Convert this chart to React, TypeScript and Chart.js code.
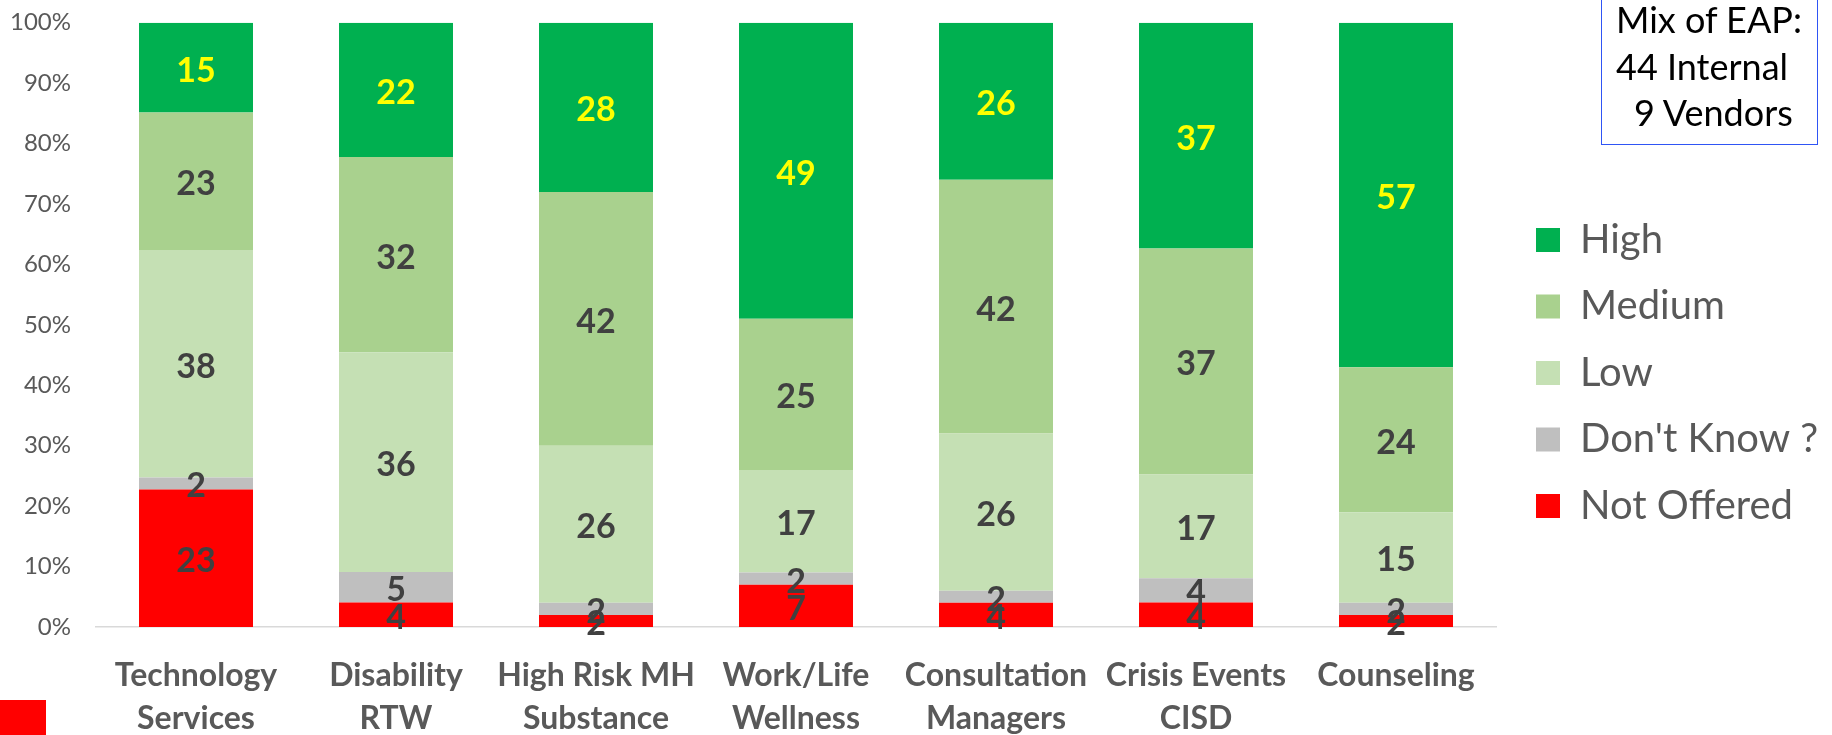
import React, { useEffect, useRef } from 'react';
import { Chart, registerables } from 'chart.js';

Chart.register(...registerables);

const categories: string[][] = [
  ['Technology', 'Services'],
  ['Disability', 'RTW'],
  ['High Risk MH', 'Substance'],
  ['Work/Life', 'Wellness'],
  ['Consultation', 'Managers'],
  ['Crisis Events', 'CISD'],
  ['Counseling'],
];

const notOffered = [23, 4, 2, 7, 4, 4, 2];
const dontKnow = [2, 5, 2, 2, 2, 4, 2];
const low = [38, 36, 26, 17, 26, 17, 15];
const medium = [23, 32, 42, 25, 42, 37, 24];
const high = [15, 22, 28, 49, 26, 37, 57];

const seriesNames = ['Not Offered', "Don't Know ?", 'Low', 'Medium', 'High'];
const seriesValues = [notOffered, dontKnow, low, medium, high];
const seriesColors = ['#FF0000', '#BFBFBF', '#C5E0B4', '#A9D18E', '#00B050'];
const labelColors = ['#404040', '#404040', '#404040', '#404040', '#FFFF00'];

const boxLines = ['Mix of EAP:', '44 Internal', '9 Vendors'];

const FONT = 'Lato, "Open Sans", "DejaVu Sans", sans-serif';

const totals = categories.map((_, i) => seriesValues.reduce((s, arr) => s + arr[i], 0));

const segmentLabels = {
  id: 'segmentLabels',
  afterDatasetsDraw(chart: any) {
    const ctx = chart.ctx;
    ctx.save();
    ctx.font = `bold 34px ${FONT}`;
    ctx.textAlign = 'center';
    ctx.textBaseline = 'middle';
    chart.data.datasets.forEach((ds: any, di: number) => {
      const meta = chart.getDatasetMeta(di);
      if (meta.hidden) return;
      ctx.fillStyle = ds.labelColor;
      meta.data.forEach((el: any, i: number) => {
        const { x, y, base } = el.getProps(['x', 'y', 'base'], true);
        ctx.fillText(String(ds.counts[i]), x, (y + base) / 2 + 3);
      });
    });
    ctx.restore();
  },
};

export default function App() {
  const ref = useRef<HTMLCanvasElement>(null);

  useEffect(() => {
    Chart.defaults.font.family = FONT;
    const chart = new Chart(ref.current as HTMLCanvasElement, {
      type: 'bar',
      data: {
        labels: categories,
        datasets: seriesNames.map((name, si) => ({
          label: name,
          data: seriesValues[si].map((v, i) => (v / totals[i]) * 100),
          counts: seriesValues[si],
          labelColor: labelColors[si],
          backgroundColor: seriesColors[si],
          borderWidth: 0,
          barPercentage: 0.57,
          categoryPercentage: 1,
        })) as any,
      },
      options: {
        responsive: false,
        animation: false,
        layout: { padding: { top: 11, bottom: 0, left: 0, right: 12.5 } },
        plugins: {
          tooltip: { enabled: false },
          legend: {
            position: 'right',
            reverse: true,
            maxWidth: 310,
            labels: {
              boxWidth: 24,
              boxHeight: 24,
              padding: 26.5,
              color: '#595959',
              font: { size: 40, family: FONT },
            },
          },
        },
        scales: {
          x: {
            stacked: true,
            grid: { display: false, drawTicks: false },
            border: { display: true, color: '#D9D9D9', width: 1.5 },
            ticks: {
              color: '#595959',
              font: { size: 32, weight: 'bold', family: FONT, lineHeight: 1.34 },
              padding: 27,
              maxRotation: 0,
              autoSkip: false,
            },
            afterFit(s: any) {
              s.height = 108;
              s.paddingLeft = 0;
              s.paddingRight = 0;
            },
          },
          y: {
            stacked: true,
            min: 0,
            max: 100,
            grid: { display: false, drawTicks: false },
            border: { display: false },
            ticks: {
              stepSize: 10,
              color: '#595959',
              font: { size: 24, family: FONT },
              padding: 25,
              callback: (v: any) => `${v}%`,
            },
            afterFit(s: any) {
              s.width = 96;
              s.paddingTop = 22.7;
              s.paddingBottom = 0;
            },
          },
          yRight: {
            type: 'linear',
            position: 'right',
            display: true,
            grid: { display: false, drawTicks: false },
            border: { display: false },
            ticks: { display: false },
            afterFit(s: any) {
              s.width = 13.5;
              s.paddingTop = 0;
              s.paddingBottom = 0;
            },
          },
        },
      } as any,
      plugins: [segmentLabels],
    });
    return () => chart.destroy();
  }, []);

  return (
    <div style={{ position: 'absolute', left: 0, top: 0, width: 1832, height: 735, overflow: 'hidden', background: '#FFFFFF' }}>
      <canvas ref={ref} width={1832} height={735} style={{ display: 'block', width: 1832, height: 735 }} />
      <div style={{ position: 'absolute', left: 0, top: 700, width: 46, height: 35, background: '#FF0000' }} />
      <div
        style={{
          position: 'absolute',
          left: 1601,
          top: -3,
          width: 217,
          height: 148,
          boxSizing: 'border-box',
          border: '1.5px solid #2F55F5',
          fontFamily: FONT,
          fontSize: 36,
          lineHeight: '46.5px',
          color: '#000000',
          paddingLeft: 14,
        }}
      >
        <div style={{ marginTop: -2 }}>{boxLines[0]}</div>
        <div>{boxLines[1]}</div>
        <div style={{ paddingLeft: 18 }}>{boxLines[2]}</div>
      </div>
    </div>
  );
}
